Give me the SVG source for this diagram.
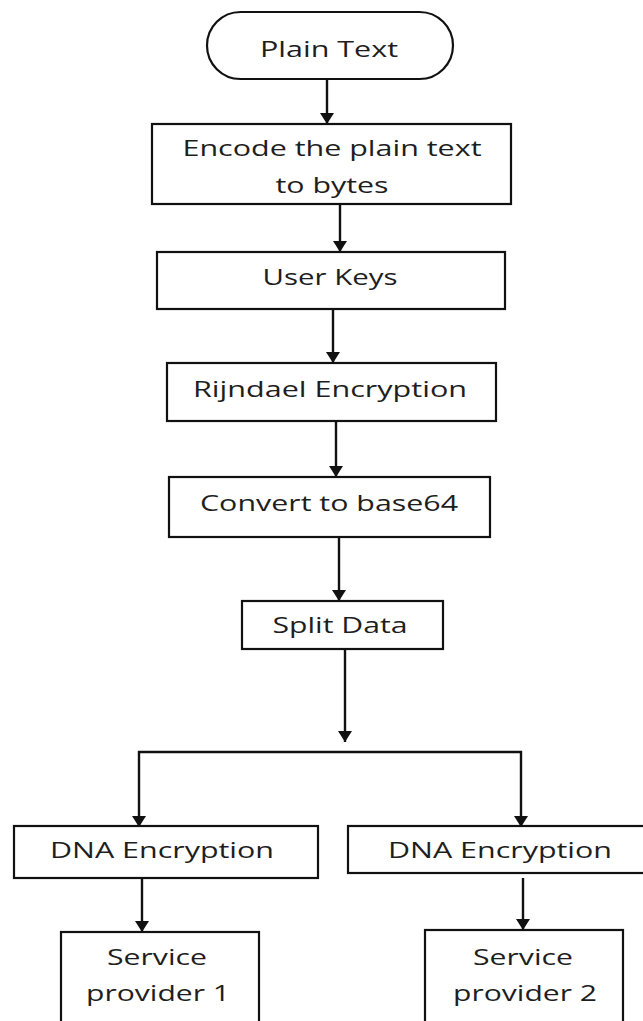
<svg xmlns="http://www.w3.org/2000/svg" width="643" height="1021" viewBox="0 0 643 1021">
<style>
.box{fill:#fff;stroke:#111;stroke-width:2.2}
.arr{fill:none;stroke:#111;stroke-width:2.4;marker-end:url(#ah)}
text{font-family:"Open Sans","Liberation Sans",sans-serif;font-size:22px;fill:#1e1e1e;text-anchor:middle}
</style>
<defs>
<marker id="ah" markerUnits="userSpaceOnUse" markerWidth="14" markerHeight="16" refX="11" refY="7" orient="auto">
<path d="M0,0 L11,7 L0,14 z" fill="#111"/>
</marker>
</defs>
<rect width="643" height="1021" fill="#fff"/>
<g id="connectors">
<line class="arr" x1="327" y1="80" x2="327" y2="124"/>
<line class="arr" x1="340" y1="204" x2="340" y2="252"/>
<line class="arr" x1="333" y1="309" x2="333" y2="363"/>
<line class="arr" x1="336" y1="421" x2="336" y2="477"/>
<line class="arr" x1="339" y1="537" x2="339" y2="601"/>
<line class="arr" x1="345" y1="649" x2="345" y2="742"/>
<polyline class="arr" points="330,752 139,752 139,827"/>
<polyline class="arr" points="330,752 521,752 521,827"/>
<line class="arr" x1="142" y1="878" x2="142" y2="932"/>
<line class="arr" x1="523" y1="878" x2="523" y2="930"/>
</g>
<g id="n1">
<rect class="box" x="207" y="12" width="246" height="67" rx="33.5"/>
<text x="329" y="57" textLength="138" lengthAdjust="spacingAndGlyphs">Plain Text</text>
</g>
<g id="n2">
<rect class="box" x="152" y="124" width="359" height="80"/>
<text x="332" y="156" textLength="299" lengthAdjust="spacingAndGlyphs">Encode the plain text</text>
<text x="332" y="193" textLength="113" lengthAdjust="spacingAndGlyphs">to bytes</text>
</g>
<g id="n3">
<rect class="box" x="157" y="252" width="348" height="57"/>
<text x="330" y="285" textLength="135" lengthAdjust="spacingAndGlyphs">User Keys</text>
</g>
<g id="n4">
<rect class="box" x="167" y="363" width="329" height="58"/>
<text x="330" y="397" textLength="274" lengthAdjust="spacingAndGlyphs">Rijndael Encryption</text>
</g>
<g id="n5">
<rect class="box" x="169" y="477" width="321" height="60"/>
<text x="329" y="511" textLength="258" lengthAdjust="spacingAndGlyphs">Convert to base64</text>
</g>
<g id="n6">
<rect class="box" x="242" y="601" width="201" height="48"/>
<text x="340" y="633" textLength="135" lengthAdjust="spacingAndGlyphs">Split Data</text>
</g>
<g id="n7">
<rect class="box" x="14" y="826" width="304" height="52"/>
<text x="162" y="858" textLength="224" lengthAdjust="spacingAndGlyphs">DNA Encryption</text>
</g>
<g id="n8">
<rect class="box" x="348" y="826" width="310" height="47"/>
<text x="500" y="858" textLength="224" lengthAdjust="spacingAndGlyphs">DNA Encryption</text>
</g>
<g id="n9">
<rect class="box" x="61" y="932" width="198" height="110"/>
<text x="157" y="965" textLength="100" lengthAdjust="spacingAndGlyphs">Service</text>
<text x="158" y="1001" textLength="144" lengthAdjust="spacingAndGlyphs">provider 1</text>
</g>
<g id="n10">
<rect class="box" x="425" y="930" width="198" height="110"/>
<text x="523" y="965" textLength="100" lengthAdjust="spacingAndGlyphs">Service</text>
<text x="525" y="1001" textLength="144" lengthAdjust="spacingAndGlyphs">provider 2</text>
</g>
</svg>
